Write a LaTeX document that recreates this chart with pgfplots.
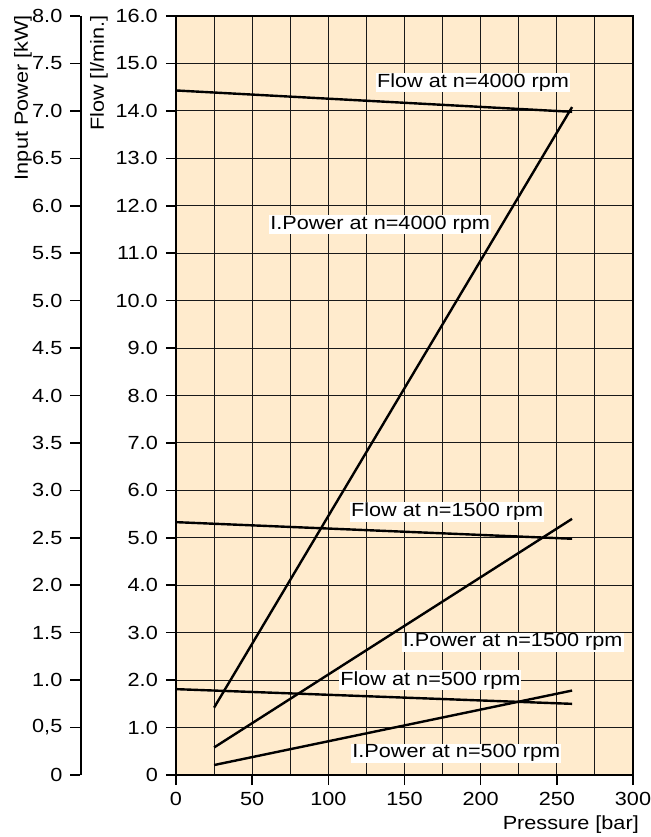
\documentclass[border=0pt]{standalone}
\usepackage{pgfplots}
\pgfplotsset{compat=1.18}
\usepackage{fontspec}
\setmainfont{Liberation Sans}[FakeStretch=1.14]
\definecolor{peach}{RGB}{255,235,205}
\begin{document}
\fontsize{19bp}{23bp}\selectfont
\begin{tikzpicture}
\path[use as bounding box] (-176bp,-62bp) rectangle (475bp,775bp);
% power axis
\begin{axis}[
  at={(-95.5bp,0)}, anchor=south west,
  scale only axis, width=1bp, height=759bp,
  xmin=0, xmax=1, ymin=0, ymax=8,
  hide x axis,
  axis line style={line width=1.4bp, black},
  ytick={0,0.5,1,1.5,2,2.5,3,3.5,4,4.5,5,5.5,6,6.5,7,7.5,8},
  yticklabels={0,{0,5},1.0,1.5,2.0,2.5,3.0,3.5,4.0,4.5,5.0,5.5,6.0,6.5,7.0,7.5,8.0},
  ytick pos=left,
  tick align=outside, major tick length=10bp,
  every tick/.style={line width=1.6bp, black},
  yticklabel style={font=\fontsize{19bp}{23bp}\selectfont, inner xsep=8bp, inner ysep=2bp},
]
\end{axis}
\begin{axis}[
  at={(0,0)}, anchor=south west,
  scale only axis, width=457bp, height=759bp,
  xmin=0, xmax=300, ymin=0, ymax=16,
  axis background/.style={fill=peach},
  axis line style={line width=1.6bp, black},
  xtick={0,50,100,150,200,250,300},
  xticklabels={0,50,100,150,200,250,300},
  minor xtick={25,75,125,175,225,275},
  ytick={0,1,2,3,4,5,6,7,8,9,10,11,12,13,14,15,16},
  yticklabels={0,1.0,2.0,3.0,4.0,5.0,6.0,7.0,8.0,9.0,10.0,11.0,12.0,13.0,14.0,15.0,16.0},
  xmajorgrids, xminorgrids, ymajorgrids,
  grid style={line width=1.1bp, black!90},
  minor grid style={line width=1.1bp, black!90},
  tick align=outside, major tick length=10bp, minor tick length=0pt,
  xtick pos=bottom, ytick pos=left,
  every tick/.style={line width=1.6bp, black},
  ticklabel style={font=\fontsize{19bp}{23bp}\selectfont},
  yticklabel style={inner xsep=8bp, inner ysep=2bp},
  xticklabel style={inner sep=2bp, yshift=-5bp},
]
% flows
\addplot[black, line width=2.4bp] coordinates {(0,14.43) (260,13.98)};
\addplot[black, line width=2.4bp] coordinates {(0,5.33) (260,4.98)};
\addplot[black, line width=2.4bp] coordinates {(0,1.81) (260,1.50)};
% input power (kW, plotted on 2x flow scale)
\addplot[black, line width=2.4bp] table[y expr=2*\thisrowno{1}] {
x kW
25 0.71
260 7.04
};
\addplot[black, line width=2.4bp] table[y expr=2*\thisrowno{1}] {
x kW
25 0.29
260 2.70
};
\addplot[black, line width=2.4bp] table[y expr=2*\thisrowno{1}] {
x kW
25 0.105
260 0.89
};
\tikzset{lab/.style={fill=white, inner sep=1bp, font=\fontsize{19bp}{23bp}\selectfont}}
\node[lab] at (axis cs:195,14.6) {Flow at n=4000 rpm};
\node[lab] at (axis cs:134,11.6) {I.Power at n=4000 rpm};
\node[lab] at (axis cs:178,5.55) {Flow at n=1500 rpm};
\node[lab] at (axis cs:221,2.8) {I.Power at n=1500 rpm};
\node[lab] at (axis cs:167,2.0) {Flow at n=500 rpm};
\node[lab] at (axis cs:184,0.46) {I.Power at n=500 rpm};
\end{axis}
\node[rotate=90, anchor=base east, inner sep=0] at (-148bp,760bp) {Input Power [kW]};
\node[rotate=90, anchor=base east, inner sep=0] at (-72bp,760bp) {Flow [l/min.]};
\node[anchor=base east, inner sep=0] at (463bp,-54bp) {Pressure [bar]};
\end{tikzpicture}
\end{document}
